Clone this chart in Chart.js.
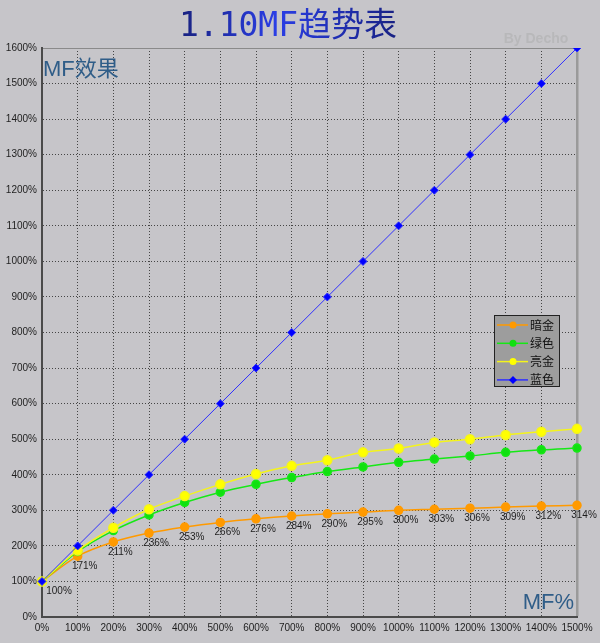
<!DOCTYPE html>
<html lang="zh">
<head>
  <meta charset="UTF-8">
  <title>1.10MF趋势表</title>
  <script src="https://cdn.jsdelivr.net/npm/chart.js"></script>
  <style>
    body { margin: 0; background: #c6c5c9; }
    #wrap { width: 600px; height: 643px; position: relative; }
  </style>
</head>
<body>

  <div id="wrap"><canvas id="chart"></canvas></div>

  <script>
    /* MF 加成 (x) 与实际效果 (y), 单位 % */
    const mfLabels = ["0%", "100%", "200%", "300%", "400%", "500%", "600%", "700%",
      "800%", "900%", "1000%", "1100%", "1200%", "1300%", "1400%", "1500%"]

    const seriesNames = ["暗金", "绿色", "亮金", "蓝色"]

    const darkGold = [100, 171, 211, 236, 253, 266, 276, 284, 290, 295, 300, 303, 306, 309, 312, 314]
    const green = [100, 184, 243, 287, 322, 351, 373, 392, 409, 422, 435, 444, 453, 463, 470, 475]
    const lightGold = [100, 187, 251, 303, 340, 373, 402, 425, 441, 463, 474, 491, 500, 512, 521, 529]
    const blue = [100, 200, 300, 400, 500, 600, 700, 800, 900, 1000, 1100, 1200, 1300, 1400, 1500, 1600]

    const BG = "#c6c5c9"

    /* Whole background gray. */
    const bgPlugin = {
      id: "bg",
      beforeDraw(chart) {
        const c = chart.ctx
        c.save()
        c.fillStyle = BG
        c.fillRect(0, 0, chart.width, chart.height)
        c.restore()
      }
    }

    /* Percent labels under the 暗金 points. */
    const valueLabels = {
      id: "valueLabels",
      afterDatasetsDraw(chart) {
        const c = chart.ctx
        const meta = chart.getDatasetMeta(0)
        const area = chart.chartArea
        c.save()
        c.font = "10px 'Liberation Sans', Arial, sans-serif"
        c.fillStyle = "#1e1e1e"
        c.textAlign = "center"
        c.textBaseline = "middle"
        meta.data.forEach((pt, i) => {
          const x = Math.max(pt.x + 7, area.left + 17)
          c.fillText(darkGold[i] + "%", x, pt.y + 10)
        })
        c.restore()
      }
    }

    /* Title, watermark, axis names and the small legend box. */
    const decorations = {
      id: "decorations",
      afterDraw(chart) {
        const c = chart.ctx
        const area = chart.chartArea
        c.save()

        const grad = c.createLinearGradient(175, 0, 400, 0)
        grad.addColorStop(0, "#17207a")
        grad.addColorStop(0.45, "#2a3ee6")
        grad.addColorStop(1, "#172080")
        c.fillStyle = grad
        c.font = "33px 'DejaVu Sans Mono', 'Noto Sans CJK SC', monospace"
        c.textAlign = "center"
        c.textBaseline = "middle"
        c.fillText("1.10MF趋势表", 288, 27)

        c.fillStyle = "#b8b8ba"
        c.font = "bold 14px 'Liberation Sans', Arial, sans-serif"
        c.fillText("By Decho", 536, 39)

        c.fillStyle = "#2f5d88"
        c.textAlign = "left"
        c.font = "22px 'Liberation Sans', 'Noto Sans CJK SC', sans-serif"
        c.fillText("MF效果", area.left + 1, 70)
        c.textAlign = "right"
        c.font = "22px 'Liberation Sans', sans-serif"
        c.fillText("MF%", area.right - 3, 603)

        // legend box
        const bx = 494, by = 315, bw = 65, bh = 71
        c.fillStyle = "#9d9d9d"
        c.fillRect(bx, by, bw, bh)
        c.strokeStyle = "#222"
        c.lineWidth = 1
        c.strokeRect(bx + 0.5, by + 0.5, bw, bh)
        c.textAlign = "left"
        c.font = "12px 'Noto Sans CJK SC', sans-serif"
        chart.data.datasets.forEach((ds, i) => {
          const y = by + 10 + i * 18.3
          c.strokeStyle = ds.borderColor
          c.lineWidth = 1.5
          c.beginPath()
          c.moveTo(bx + 3, y)
          c.lineTo(bx + 34, y)
          c.stroke()
          c.fillStyle = ds.backgroundColor
          c.beginPath()
          if (ds.pointStyle === "rectRot") {
            c.moveTo(bx + 19, y - 4)
            c.lineTo(bx + 23, y)
            c.lineTo(bx + 19, y + 4)
            c.lineTo(bx + 15, y)
          } else {
            c.arc(bx + 19, y, 3.5, 0, Math.PI * 2)
          }
          c.fill()
          c.fillStyle = "#111"
          c.fillText(ds.label, bx + 36, y)
        })
        c.restore()
      }
    }

    const lastX = mfLabels.length - 1
    const lastY = 16

    const ctx = document.getElementById("chart").getContext("2d")
    const myChart = new Chart(ctx, {
      type: "line",
      data: {
        labels: mfLabels,
        datasets: [
          {
            label: seriesNames[0],
            data: darkGold,
            borderColor: "#ff9a00",
            backgroundColor: "#ff9a00",
            borderWidth: 1.5,
            pointRadius: 4,
            pointStyle: "circle",
            tension: 0.35,
            order: 4,
          },
          {
            label: seriesNames[1],
            data: green,
            borderColor: "#16e816",
            backgroundColor: "#10e010",
            borderWidth: 1.5,
            pointRadius: 4,
            pointStyle: "circle",
            tension: 0.35,
            order: 3,
          },
          {
            label: seriesNames[2],
            data: lightGold,
            borderColor: "#f4f41c",
            backgroundColor: "#ffff00",
            borderWidth: 1.5,
            pointRadius: 4.5,
            pointStyle: "circle",
            tension: 0.35,
            order: 2,
          },
          {
            label: seriesNames[3],
            data: blue,
            borderColor: "#3030ff",
            backgroundColor: "#0000ff",
            borderWidth: 1,
            pointRadius: 4,
            pointStyle: "rectRot",
            tension: 0,
            order: 1,
          },
        ]
      },
      options: {
        responsive: true,
        maintainAspectRatio: false,
        animation: false,
        layout: { padding: { top: 48, right: 23, left: 0, bottom: 0 } },
        plugins: {
          legend: { display: false },
          title: { display: false },
          tooltip: { enabled: false },
        },
        scales: {
          x: {
            afterFit: (s) => { s.height = 26 },
            ticks: {
              autoSkip: false,
              maxRotation: 0,
              padding: 5,
              color: "#1e1e1e",
              font: { family: "'Liberation Sans', Arial, sans-serif", size: 10 },
            },
            grid: {
              drawTicks: false,
              color: (c) => c.index === lastX ? "#9a9a9a" : "#454545",
              lineWidth: (c) => c.index === lastX ? 2.5 : 1,
            },
            border: {
              color: "#4a4a4a",
              width: 2,
              dash: (c) => c.index === lastX ? [] : [1, 2],
            },
          },
          y: {
            min: 0,
            max: 1600,
            afterFit: (s) => { s.width = 42 },
            ticks: {
              stepSize: 100,
              padding: 5,
              color: "#1e1e1e",
              font: { family: "'Liberation Sans', Arial, sans-serif", size: 10 },
              callback: (v) => v + "%",
            },
            grid: {
              drawTicks: false,
              color: (c) => c.index === lastY ? "#8a8a8a" : "#454545",
              lineWidth: 1,
            },
            border: {
              color: "#4a4a4a",
              width: 2,
              dash: (c) => c.index === lastY ? [] : [1, 2],
            },
          },
        },
      },
      plugins: [bgPlugin, valueLabels, decorations],
    })
  </script>

</body>
</html>
